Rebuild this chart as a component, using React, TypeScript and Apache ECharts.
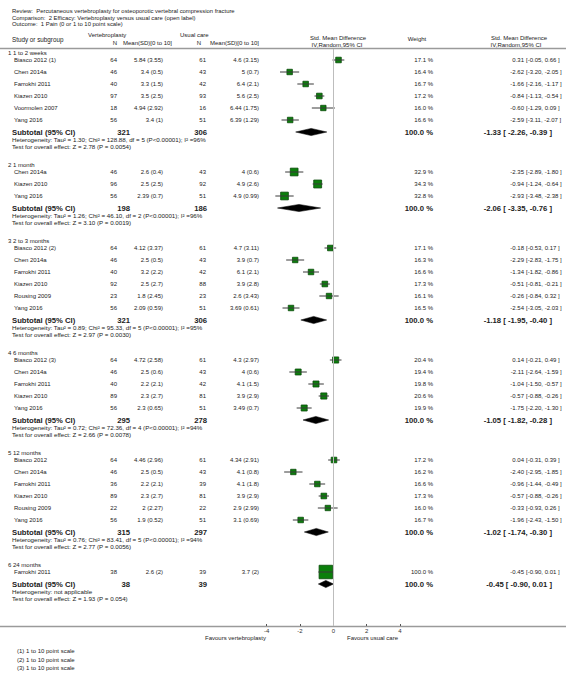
import React, { useEffect, useRef } from "react";
import * as echarts from "echarts";

const FONT = '"Liberation Sans", Arial, Helvetica, sans-serif';
const TEXT = "#222";

const titleLines = [
  "Review:  Percutaneous vertebroplasty for osteoporotic vertebral compression fracture",
  "Comparison:  2 Efficacy: Vertebroplasty versus usual care (open label)",
  "Outcome:  1 Pain (0 or 1 to 10 point scale)",
];

const groupTitles = ["1 1 to 2 weeks", "2 1 month", "3 2 to 3 months", "4 6 months", "5 12 months", "6 24 months"];

const studyGroup = [0, 0, 0, 0, 0, 0, 1, 1, 1, 2, 2, 2, 2, 2, 2, 3, 3, 3, 3, 3, 4, 4, 4, 4, 4, 4, 5];
const studyNames = [
  "Biasco 2012 (1)", "Chen 2014a", "Farrokhi 2011", "Kiazen 2010", "Voormolen 2007", "Yang 2016",
  "Chen 2014a", "Kiazen 2010", "Yang 2016",
  "Biasco 2012 (2)", "Chen 2014a", "Farrokhi 2011", "Kiazen 2010", "Rousing 2009", "Yang 2016",
  "Biasco 2012 (3)", "Chen 2014a", "Farrokhi 2011", "Kiazen 2010", "Yang 2016",
  "Biasco 2012", "Chen 2014a", "Farrokhi 2011", "Kiazen 2010", "Rousing 2009", "Yang 2016",
  "Farrokhi 2011",
];
const vertN = [64, 46, 40, 97, 18, 56, 46, 96, 56, 64, 46, 40, 92, 23, 56, 64, 46, 40, 89, 56, 64, 46, 36, 89, 22, 56, 38];
const vertMeanSD = [
  "5.84 (3.55)", "3.4 (0.5)", "3.3 (1.5)", "3.5 (2.5)", "4.94 (2.92)", "3.4 (1)",
  "2.6 (0.4)", "2.5 (2.5)", "2.39 (0.7)",
  "4.12 (3.37)", "2.5 (0.5)", "3.2 (2.2)", "2.5 (2.7)", "1.8 (2.45)", "2.09 (0.59)",
  "4.72 (2.58)", "2.5 (0.6)", "2.2 (2.1)", "2.3 (2.7)", "2.3 (0.65)",
  "4.46 (2.96)", "2.5 (0.5)", "2.2 (2.1)", "2.3 (2.7)", "2 (2.27)", "1.9 (0.52)",
  "2.6 (2)",
];
const usualN = [61, 43, 42, 93, 16, 51, 43, 92, 51, 61, 43, 42, 88, 23, 51, 61, 43, 42, 81, 51, 61, 43, 39, 81, 22, 51, 39];
const usualMeanSD = [
  "4.6 (3.15)", "5 (0.7)", "6.4 (2.1)", "5.6 (2.5)", "6.44 (1.75)", "6.39 (1.29)",
  "4 (0.6)", "4.9 (2.6)", "4.9 (0.99)",
  "4.7 (3.11)", "3.9 (0.7)", "6.1 (2.1)", "3.9 (2.8)", "2.6 (3.43)", "3.69 (0.61)",
  "4.3 (2.97)", "4 (0.6)", "4.1 (1.5)", "3.9 (2.9)", "3.49 (0.7)",
  "4.34 (2.91)", "4.1 (0.8)", "4.1 (1.8)", "3.9 (2.9)", "2.9 (2.99)", "3.1 (0.69)",
  "3.7 (2)",
];
const studyWeight = [17.1, 16.4, 16.7, 17.2, 16.0, 16.6, 32.9, 34.3, 32.8, 17.1, 16.3, 16.6, 17.3, 16.1, 16.5, 20.4, 19.4, 19.8, 20.6, 19.9, 17.2, 16.2, 16.6, 17.3, 16.0, 16.7, 100.0];
const studySMD = [0.31, -2.62, -1.66, -0.84, -0.6, -2.59, -2.35, -0.94, -2.93, -0.18, -2.29, -1.34, -0.51, -0.26, -2.54, 0.14, -2.11, -1.04, -0.57, -1.75, 0.04, -2.4, -0.96, -0.57, -0.33, -1.96, -0.45];
const studyLow = [-0.05, -3.2, -2.16, -1.13, -1.29, -3.11, -2.89, -1.24, -3.48, -0.53, -2.83, -1.82, -0.81, -0.84, -3.05, -0.21, -2.64, -1.5, -0.88, -2.2, -0.31, -2.95, -1.44, -0.88, -0.93, -2.43, -0.9];
const studyHigh = [0.66, -2.05, -1.17, -0.54, 0.09, -2.07, -1.8, -0.64, -2.38, 0.17, -1.75, -0.86, -0.21, 0.32, -2.03, 0.49, -1.59, -0.57, -0.26, -1.3, 0.39, -1.85, -0.49, -0.26, 0.26, -1.5, 0.01];

const groupVertTotal = [321, 198, 321, 295, 315, 38];
const groupUsualTotal = [306, 186, 306, 278, 297, 39];
const groupSMD = [-1.33, -2.06, -1.18, -1.05, -1.02, -0.45];
const groupLow = [-2.26, -3.35, -1.95, -1.82, -1.74, -0.9];
const groupHigh = [-0.39, -0.76, -0.4, -0.28, -0.3, 0.01];
const groupHet = [
  "Heterogeneity: Tau² = 1.30; Chi² = 128.88, df = 5 (P<0.00001); I² =96%",
  "Heterogeneity: Tau² = 1.26; Chi² = 46.10, df = 2 (P<0.00001); I² =96%",
  "Heterogeneity: Tau² = 0.89; Chi² = 95.33, df = 5 (P<0.00001); I² =95%",
  "Heterogeneity: Tau² = 0.72; Chi² = 72.36, df = 4 (P<0.00001); I² =94%",
  "Heterogeneity: Tau² = 0.76; Chi² = 83.41, df = 5 (P<0.00001); I² =94%",
  "Heterogeneity: not applicable",
];
const groupTest = [
  "Test for overall effect: Z = 2.78 (P = 0.0054)",
  "Test for overall effect: Z = 3.10 (P = 0.0019)",
  "Test for overall effect: Z = 2.97 (P = 0.0030)",
  "Test for overall effect: Z = 2.66 (P = 0.0078)",
  "Test for overall effect: Z = 2.77 (P = 0.0056)",
  "Test for overall effect: Z = 1.93 (P = 0.054)",
];
const footnotes = ["(1) 1 to 10 point scale", "(2) 1 to 10 point scale", "(3) 1 to 10 point scale"];
const favoursLeft = "Favours vertebroplasty";
const favoursRight = "Favours usual care";

const f2 = (v: number) => v.toFixed(2);

function txt(x: number, y: number, text: string, size: number, align = "left", bold = false) {
  return {
    type: "text",
    x,
    y,
    silent: true,
    z: 10,
    style: {
      text,
      fill: TEXT,
      font: `${bold ? "bold " : ""}${size}px ${FONT}`,
      align,
      verticalAlign: "middle",
    },
  };
}

function buildOption() {
  const REG = 6;
  const BOLD = 7.7;
  const HET = 6.2;
  const g: any[] = [];

  // titles
  titleLines.forEach((t, i) => g.push(txt(12, 11 + i * 6.6, t, 5.9)));

  // column headers
  g.push(txt(12, 39, "Study or subgroup", 6.3));
  g.push(txt(88, 35, "Vertebroplasty", 6));
  g.push(txt(117, 43, "N", 6, "right"));
  g.push(txt(123, 43, "Mean(SD)[0 to 10]", 6));
  g.push(txt(180, 35, "Usual care", 6));
  g.push(txt(201, 43, "N", 6, "right"));
  g.push(txt(210, 43, "Mean(SD)[0 to 10]", 6));
  g.push(txt(338, 38, "Std. Mean Difference", 6, "center"));
  g.push(txt(337, 44.5, "IV,Random,95% CI", 6, "center"));
  g.push(txt(417, 39, "Weight", 6, "center"));
  g.push(txt(519, 38, "Std. Mean Difference", 6, "center"));
  g.push(txt(516, 44.5, "IV,Random,95% CI", 6, "center"));

  // lines
  g.push({ type: "line", silent: true, shape: { x1: 0, y1: 48.5, x2: 566, y2: 48.5 }, style: { stroke: "#9a9a9a", lineWidth: 1.4 } });
  g.push({ type: "line", silent: true, shape: { x1: 0, y1: 626.5, x2: 566, y2: 626.5 }, style: { stroke: "#9a9a9a", lineWidth: 1.4 } });

  // layout rows
  const studyData: any[] = [];
  const diamondData: any[] = [];
  let y = 53;
  for (let gi = 0; gi < groupTitles.length; gi++) {
    g.push(txt(8, y, groupTitles[gi], REG));
    y += 7;
    for (let i = 0; i < studyNames.length; i++) {
      if (studyGroup[i] !== gi) continue;
      g.push(txt(14, y, studyNames[i], REG));
      g.push(txt(117, y, String(vertN[i]), REG, "right"));
      g.push(txt(163, y, vertMeanSD[i], REG, "right"));
      g.push(txt(206, y, String(usualN[i]), REG, "right"));
      g.push(txt(259, y, usualMeanSD[i], REG, "right"));
      g.push(txt(433, y, studyWeight[i].toFixed(1) + " %", REG, "right"));
      g.push(txt(524, y, f2(studySMD[i]), REG, "right"));
      g.push(txt(526, y, `[${f2(studyLow[i])}, ${f2(studyHigh[i])} ]`, REG));
      studyData.push([studySMD[i], studyLow[i], studyHigh[i], y, studyWeight[i]]);
      y += 12;
    }
    g.push(txt(12, y, "Subtotal (95% CI)", BOLD, "left", true));
    g.push(txt(130, y, String(groupVertTotal[gi]), BOLD, "right", true));
    g.push(txt(207, y, String(groupUsualTotal[gi]), BOLD, "right", true));
    g.push(txt(433, y, "100.0 %", BOLD, "right", true));
    g.push(txt(552, y, `${f2(groupSMD[gi])} [ ${f2(groupLow[gi])}, ${f2(groupHigh[gi])} ]`, BOLD, "right", true));
    diamondData.push([groupSMD[gi], groupLow[gi], groupHigh[gi], y]);
    y += 7;
    g.push(txt(12, y, groupHet[gi], HET));
    y += 7;
    g.push(txt(12, y, groupTest[gi], HET));
    y += 19;
  }

  g.push(txt(266, 638, favoursLeft, 6, "right"));
  g.push(txt(347, 638, favoursRight, 6, "left"));
  footnotes.forEach((t, i) => g.push(txt(17, 651 + i * 8.7, t, 6)));

  return {
    animation: false,
    backgroundColor: "#ffffff",
    grid: { left: 266.67, right: 166, top: 49, bottom: 60 },
    xAxis: {
      type: "value",
      min: -4,
      max: 4,
      interval: 2,
      axisLine: { show: false },
      axisTick: { show: true, inside: true, length: 2, lineStyle: { color: "#555", width: 1 } },
      axisLabel: { fontSize: 6, color: "#333", margin: 2, fontFamily: FONT },
      splitLine: { show: false },
    },
    yAxis: { type: "value", min: 49, max: 626, inverse: true, show: false },
    graphic: g,
    series: [
      {
        type: "custom",
        data: studyData,
        encode: { x: [0, 1, 2], y: 3 },
        clip: false,
        renderItem: (params: any, api: any) => {
          const est = api.value(0);
          const lo = api.value(1);
          const hi = api.value(2);
          const yy = api.value(3);
          const w = api.value(4);
          const c = api.coord([est, yy]);
          const l = api.coord([lo, yy]);
          const h = api.coord([hi, yy]);
          const s = 1.35 * Math.sqrt(w);
          return {
            type: "group",
            children: [
              {
                type: "rect",
                shape: { x: c[0] - s / 2, y: c[1] - s / 2, width: s, height: s },
                style: { fill: "#0b7f0b", stroke: "#0a4a0a", lineWidth: 0.8 },
              },
              {
                type: "line",
                shape: { x1: l[0], y1: l[1], x2: h[0], y2: h[1] },
                style: { stroke: "#3a3a3a", lineWidth: 1 },
              },
            ],
          };
        },
        markLine: {
          silent: true,
          symbol: ["none", "none"],
          label: { show: false },
          lineStyle: { color: "#bdbdbd", type: "solid", width: 1 },
          data: [{ xAxis: 0 }],
        },
      },
      {
        type: "custom",
        data: diamondData,
        encode: { x: [0, 1, 2], y: 3 },
        clip: false,
        renderItem: (params: any, api: any) => {
          const yy = api.value(3);
          const c = api.coord([api.value(0), yy]);
          const l = api.coord([api.value(1), yy]);
          const h = api.coord([api.value(2), yy]);
          const hh = 3.6;
          return {
            type: "polygon",
            shape: { points: [[l[0], c[1]], [c[0], c[1] - hh], [h[0], c[1]], [c[0], c[1] + hh]] },
            style: { fill: "#000", stroke: "#000", lineWidth: 0.5 },
          };
        },
      },
    ],
  };
}

export default function App() {
  const ref = useRef<HTMLDivElement>(null);
  useEffect(() => {
    const chart = echarts.init(ref.current!, null, { renderer: "svg" });
    chart.setOption(buildOption() as any);
    return () => chart.dispose();
  }, []);
  return (
    <div
      ref={ref}
      style={{ position: "absolute", left: 0, top: 0, width: 566, height: 686, background: "#fff" }}
    />
  );
}
